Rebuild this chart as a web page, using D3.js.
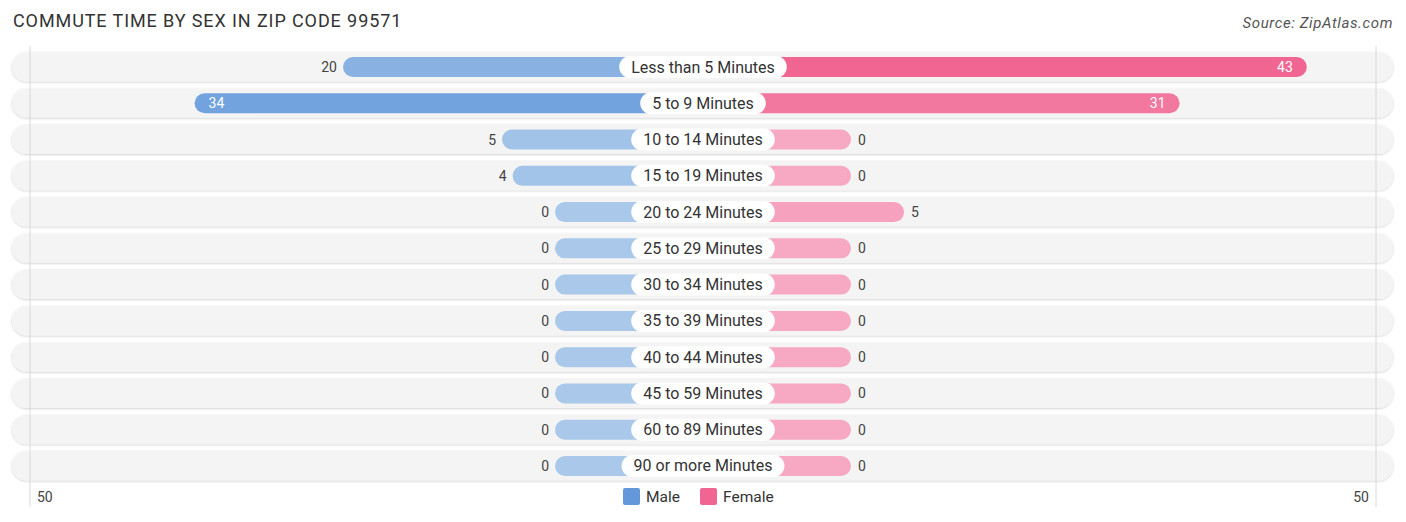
<!DOCTYPE html>
<html>
<head>
<meta charset="utf-8">
<script src="https://cdn.jsdelivr.net/npm/d3@7"></script>
<style>
  body { margin: 0; background: #fff; font-family: Roboto, "Open Sans", sans-serif; }
  svg text { font-family: Roboto, "Open Sans", sans-serif; }
</style>
</head>
<body>
<div id="chart"></div>
<script>
var categories = ["Less than 5 Minutes", "5 to 9 Minutes", "10 to 14 Minutes", "15 to 19 Minutes",
	"20 to 24 Minutes", "25 to 29 Minutes", "30 to 34 Minutes", "35 to 39 Minutes",
	"40 to 44 Minutes", "45 to 59 Minutes", "60 to 89 Minutes", "90 or more Minutes"];
var maleValues = [20, 34, 5, 4, 0, 0, 0, 0, 0, 0, 0, 0];
var femaleValues = [43, 31, 0, 0, 5, 0, 0, 0, 0, 0, 0, 0];
var axisTicks = [50];
var seriesNames = ["Male", "Female"];

var width = 1406,
	height = 522,
	cx = 703,
	firstRow = 67,
	rowStep = 36.27,
	rowH = 29,
	barH = 20,
	minBar = 148,
	gridOff = 673;

var maleColor = d3.interpolateRgb("#aac8ea", "#6399db"),
	femaleColor = d3.interpolateRgb("#f7a9c3", "#f06591");

var x = d3.scaleLinear().domain([0, 50]).range([minBar, minBar + 530]);
var y = d3.scaleLinear().domain([0, categories.length - 1])
	.range([firstRow, firstRow + rowStep * (categories.length - 1)]);

var rows = categories.map(function(c, i) {
	return {name: c, male: maleValues[i], female: femaleValues[i], i: i};
});

var svg = d3.select("#chart").append("svg")
	.attr("width", width)
	.attr("height", height);

var defs = svg.append("defs");
var shadow = defs.append("filter").attr("id", "sh")
	.attr("x", "-5%").attr("y", "-30%").attr("width", "110%").attr("height", "170%");
shadow.append("feDropShadow").attr("dx", 0).attr("dy", 0.6)
	.attr("stdDeviation", 0.9).attr("flood-color", "#000").attr("flood-opacity", 0.22);

// title & source
svg.append("text")
	.attr("x", 13).attr("y", 27)
	.style("font-size", "18px").style("letter-spacing", "0.9px").style("fill", "#333")
	.text("COMMUTE TIME BY SEX IN ZIP CODE 99571");

svg.append("text")
	.attr("x", 1393).attr("y", 28)
	.attr("text-anchor", "end")
	.style("font-size", "15px").style("letter-spacing", "0.6px")
	.style("font-style", "italic").style("fill", "#555")
	.text("Source: ZipAtlas.com");

// row backgrounds
svg.selectAll(".rowbg")
	.data(rows)
	.enter().append("rect")
	.attr("class", "rowbg")
	.attr("x", 12).attr("width", 1381)
	.attr("y", function(d) { return y(d.i) - rowH / 2; })
	.attr("height", rowH)
	.attr("rx", rowH / 2)
	.style("fill", "#f4f4f4")
	.attr("filter", "url(#sh)");

// grid lines at +/- 50
svg.selectAll(".grid")
	.data([-1, 1])
	.enter().append("line")
	.attr("class", "grid")
	.attr("x1", function(d) { return cx + d * gridOff; })
	.attr("x2", function(d) { return cx + d * gridOff; })
	.attr("y1", 46).attr("y2", 507)
	.style("stroke", "#d8d8d8").style("stroke-width", 1);

var maxV = d3.max(maleValues.concat(femaleValues));

var g = svg.selectAll(".row")
	.data(rows)
	.enter().append("g")
	.attr("class", "row")
	.attr("transform", function(d) { return "translate(0," + y(d.i) + ")"; });

g.append("rect")
	.attr("x", function(d) { return cx - x(d.male); })
	.attr("width", function(d) { return x(d.male); })
	.attr("y", -barH / 2).attr("height", barH)
	.attr("rx", barH / 2)
	.style("fill", function(d) { return maleColor(d.male / maxV); });

g.append("rect")
	.attr("x", cx)
	.attr("width", function(d) { return x(d.female); })
	.attr("y", -barH / 2).attr("height", barH)
	.attr("rx", barH / 2)
	.style("fill", function(d) { return femaleColor(d.female / maxV); });

function inside(v) { return v > 25; }

g.append("text")
	.attr("x", function(d) { return inside(d.male) ? cx - x(d.male) + 14 : cx - x(d.male) - 6; })
	.attr("y", 5)
	.attr("text-anchor", function(d) { return inside(d.male) ? "start" : "end"; })
	.style("font-size", "14px")
	.style("fill", function(d) { return inside(d.male) ? "#fff" : "#444"; })
	.text(function(d) { return d.male; });

g.append("text")
	.attr("x", function(d) { return inside(d.female) ? cx + x(d.female) - 14 : cx + x(d.female) + 7; })
	.attr("y", 5)
	.attr("text-anchor", function(d) { return inside(d.female) ? "end" : "start"; })
	.style("font-size", "14px")
	.style("fill", function(d) { return inside(d.female) ? "#fff" : "#444"; })
	.text(function(d) { return d.female; });

// category pills
var lab = g.append("g");
lab.append("text")
	.attr("x", cx).attr("y", 5.5)
	.attr("text-anchor", "middle")
	.style("font-size", "16px").style("fill", "#333")
	.text(function(d) { return d.name; })
	.each(function(d) { d.tw = this.getComputedTextLength(); });
lab.insert("rect", "text")
	.attr("x", function(d) { return cx - d.tw / 2 - 12; })
	.attr("width", function(d) { return d.tw + 24; })
	.attr("y", -11).attr("height", 22)
	.attr("rx", 11)
	.style("fill", "#fff");

// axis labels
svg.selectAll(".tick")
	.data([-1, 1])
	.enter().append("text")
	.attr("class", "tick")
	.attr("x", function(d) { return d < 0 ? cx - gridOff + 7 : cx + gridOff - 7; })
	.attr("y", 502)
	.attr("text-anchor", function(d) { return d < 0 ? "start" : "end"; })
	.style("font-size", "14px").style("fill", "#444")
	.text(axisTicks[0]);

// legend
var leg = svg.selectAll(".leg")
	.data(seriesNames)
	.enter().append("g")
	.attr("class", "leg")
	.attr("transform", function(d, i) { return "translate(" + (i === 0 ? 623 : 700) + ",488)"; });
leg.append("rect")
	.attr("width", 17).attr("height", 17).attr("rx", 2)
	.style("fill", function(d, i) { return i === 0 ? maleColor(1) : femaleColor(1); });
leg.append("text")
	.attr("x", 23).attr("y", 14)
	.style("font-size", "15.5px").style("fill", "#333")
	.text(function(d) { return d; });
</script>
</body>
</html>
